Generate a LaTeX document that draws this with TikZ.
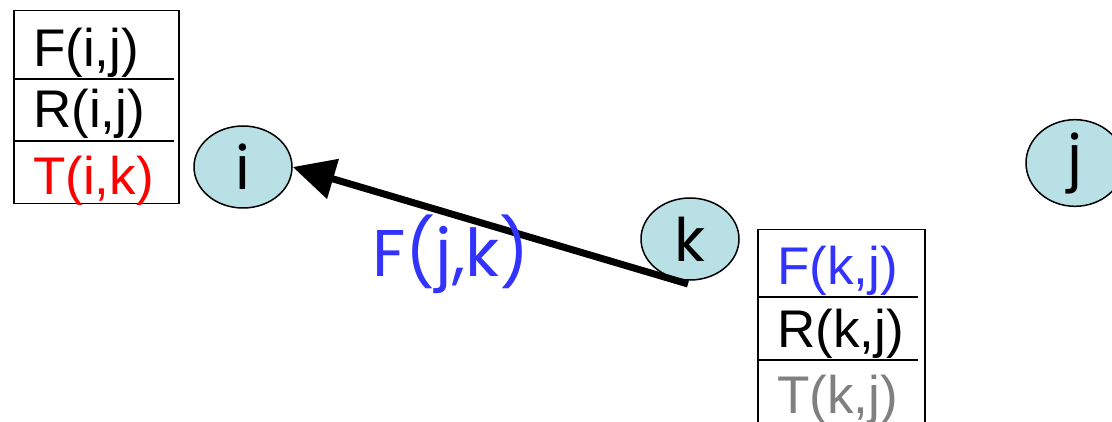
\documentclass[tikz,border=0pt]{standalone}
\usepackage{fontspec}
\setmainfont{Liberation Sans}
\newfontfamily\handfont{Poppins}
\usetikzlibrary{shapes.geometric,arrows.meta}
\definecolor{nodefill}{RGB}{185,224,228}
\definecolor{myblue}{RGB}{51,51,255}
\definecolor{mygray}{RGB}{128,128,128}
\definecolor{myred}{RGB}{255,0,0}
\begin{document}
\begin{tikzpicture}[x=1pt,y=-1pt,
  vertex/.style={ellipse,draw=black,line width=1.5pt,fill=nodefill,inner sep=0pt,
    minimum width=98pt,minimum height=82pt,font=\handfont\fontsize{60}{60}\selectfont},
  tablebox/.style={rectangle,draw=black,line width=1.5pt,inner sep=0pt,anchor=north west},
  celltext/.style={anchor=base west,inner sep=0pt,font=\fontsize{53}{53}\selectfont},
  rowline/.style={line width=1.5pt}]
\useasboundingbox (0,0) rectangle (1112,422);
\clip (0,0) rectangle (1112,422);
% left table
\node[tablebox,minimum width=165pt,minimum height=193pt] (lt) at (13,10) {};
\draw[rowline] (13,79) -- (174,79);
\draw[rowline] (13,141) -- (174,141);
\node[celltext] (lf) at (33,67) {F(i,j)};
\node[celltext] (lr) at (33,128) {R(i,j)};
\node[celltext,text=myred] (ltk) at (33,195) {T(i,k)};
% right table
\node[tablebox,minimum width=167pt,minimum height=200pt] (rt) at (757,229) {};
\draw[rowline] (757,297) -- (918,297);
\draw[rowline] (757,360) -- (918,360);
\node[celltext,text=myblue] (rf) at (777,285) {F(k,j)};
\node[celltext] (rr) at (777,347) {R(k,j)};
\node[celltext,text=mygray] (rtk) at (777,413) {T(k,j)};
% nodes
\node[vertex] (i) at (243,167) {i};
\node[vertex] (k) at (690,239) {k};
\node[vertex] (j) at (1075,163) {j};
% arrow
\coordinate (start) at (688,284);
\draw[line width=7pt,-{Triangle[length=42pt,width=40pt]}] (start) -- (i.east);
\node[text=myblue,font=\handfont\fontsize{66}{66}\selectfont,inner sep=0pt] (lbl) at (451,254) {F(j,k)};
\end{tikzpicture}
\end{document}
